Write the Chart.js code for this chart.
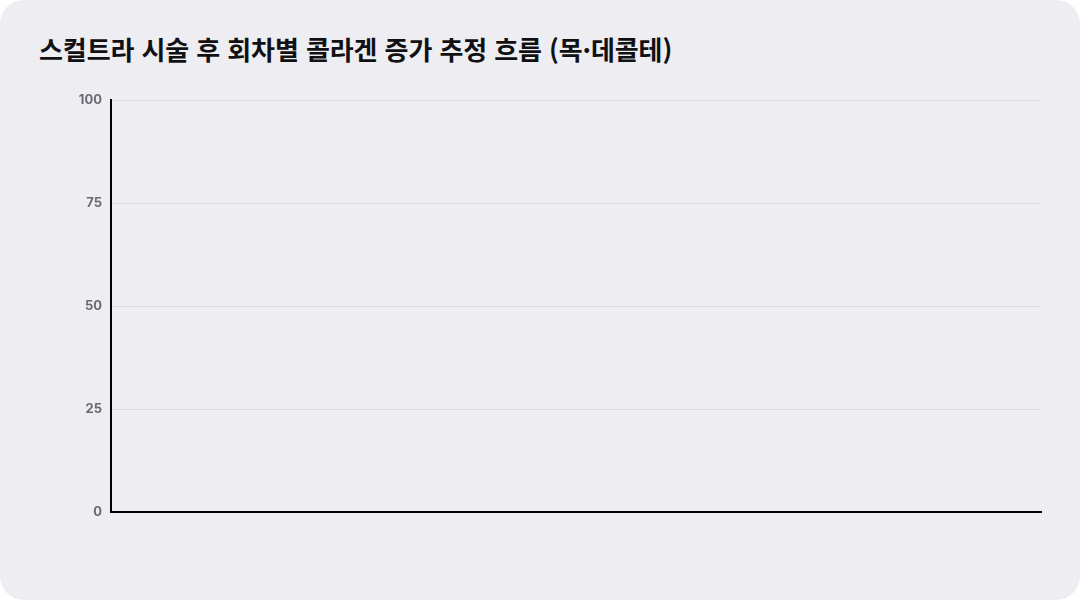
<!DOCTYPE html>
<html lang="ko">
<head>
<meta charset="utf-8">
<script src="https://cdn.jsdelivr.net/npm/chart.js@4.4.1/dist/chart.umd.min.js"></script>
<style>
    html, body { margin: 0; padding: 0; background: #ffffff; }
    .card {
        position: relative;
        width: 1080px;
        height: 600px;
        background: #ededf2;
        border-radius: 24px;
        overflow: hidden;
    }
    .title {
        position: absolute;
        left: 39px;
        top: 30px;
        font-family: "Noto Sans CJK KR", "Noto Sans", sans-serif;
        font-weight: 700;
        font-size: 26px;
        line-height: 38px;
        color: #111114;
        letter-spacing: -0.1px;
    }
    canvas { position: absolute; left: 0; top: 0; }
</style>
</head>
<body>
<div class="card">
    <div class="title">스컬트라 시술 후 회차별 콜라겐 증가 추정 흐름 (목·데콜테)</div>
    <canvas id="chart" width="1080" height="600"></canvas>
</div>
<script>
// the reference shows an empty plot: no sessions, no values
const sessions = [];
const collagenValues = [];
const yTicks = [0, 25, 50, 75, 100];

document.addEventListener('DOMContentLoaded', () => {
    const ctx = document.getElementById('chart').getContext('2d');
    new Chart(ctx, {
        type: 'line',
        data: {
            labels: sessions,
            datasets: [{
                data: collagenValues,
                borderColor: '#6b5bd6',
                borderWidth: 2,
                pointRadius: 0,
                fill: false
            }]
        },
        options: {
            responsive: false,
            animation: false,
            layout: { padding: { left: 60, top: 100, right: 39, bottom: 88 } },
            plugins: {
                legend: { display: false },
                tooltip: { enabled: false }
            },
            scales: {
                x: {
                    grid: { display: false, drawTicks: false },
                    border: { display: true, color: '#000000', width: 2 },
                    ticks: { display: false }
                },
                y: {
                    min: yTicks[0],
                    max: yTicks[yTicks.length - 1],
                    afterBuildTicks: (scale) => {
                        scale.ticks = yTicks.map(v => ({ value: v }));
                    },
                    afterFit: (scale) => { scale.width = 51; },
                    grid: { color: '#d9d9df', lineWidth: 1, drawTicks: false },
                    border: { display: true, color: '#000000', width: 2 },
                    ticks: {
                        padding: 9,
                        color: '#6a6a72',
                        font: { family: 'Inter', size: 13, weight: 'bold' }
                    }
                }
            }
        }
    });
});
</script>
</body>
</html>
